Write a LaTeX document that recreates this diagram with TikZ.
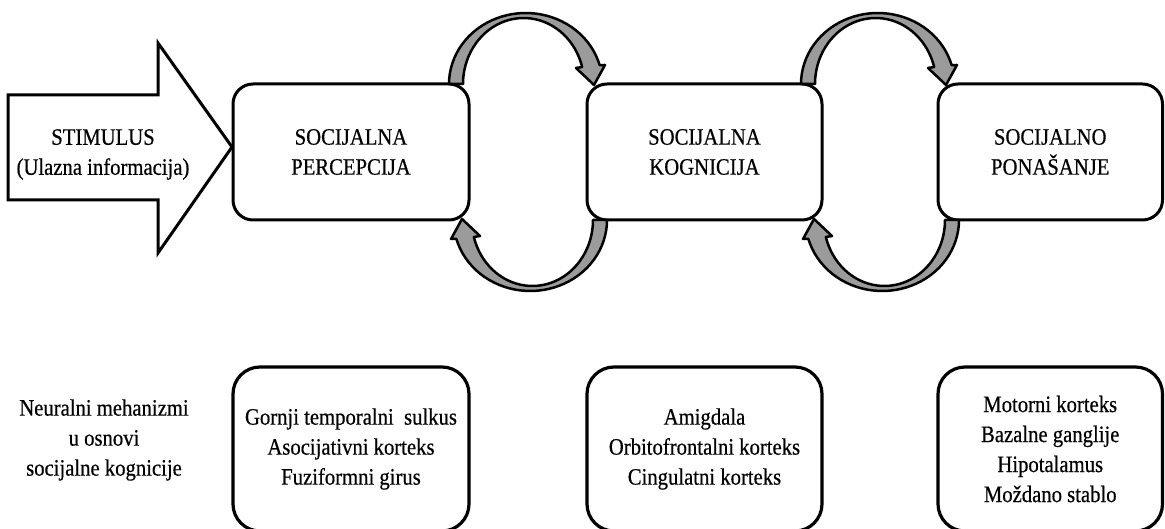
\documentclass[tikz,border=0pt]{standalone}
\usepackage{fontspec}
\setmainfont{Liberation Serif}
\newfontfamily\dfont[FakeStretch=0.88,FakeBold=0.5]{Liberation Serif}
\usetikzlibrary{calc}
\definecolor{arrowgray}{RGB}{155,155,155}
\tikzset{
  lbl/.style={font=\dfont\fontsize{23.5}{30}\selectfont, align=center, inner sep=0pt, outer sep=0pt},
  topbox/.style={lbl, draw, line width=3pt, rounded corners=20pt, minimum height=136pt},
  botbox/.style={lbl, draw, line width=3.2pt, rounded corners=27pt, minimum height=164pt},
  band/.style={draw=black, fill=arrowgray, line width=2.5pt, line join=round},
  bigarrow/.style={draw=black, line width=3pt, line join=miter, fill=white},
  loopband/.pic={
    \path[band] plot[domain=180:344.5, samples=40] ({-2.3+76.7*cos(\x)}, {71*sin(\x)})
      -- (77,-19) -- (66,1) -- (48,-16) -- (54.2,-17)
      -- plot[domain=345.07:180, samples=40] ({-4.4+60.6*cos(\x)}, {66*sin(\x)}) -- cycle;
  }
}
\begin{document}
\begin{tikzpicture}[x=1pt,y=-1pt]
\fill[white] (0,0) rectangle (1165,529);
\useasboundingbox (0,0) rectangle (1165,529);

% big input arrow
\draw[bigarrow] (8,95) -- (158,95) -- (158,43) -- (232,147) -- (158,253) -- (158,200) -- (8,200) -- cycle;
\node[lbl] (stim) at (103,154.5) {STIMULUS\\(Ulazna informacija)};

% top row
\node[topbox, minimum width=236pt] (sp) at (351,152) {SOCIJALNA\\PERCEPCIJA};
\node[topbox, minimum width=235pt] (sk) at (704.5,152) {SOCIJALNA\\KOGNICIJA};
\node[topbox, minimum width=224.5pt] (sn) at (1050.25,152) {SOCIJALNO\\PONAŠANJE};

% loop arrows
\pic at ($(sp.north east)!0.5!(sk.north west)$) {loopband};
\pic[rotate=180] at ($(sp.south east)!0.5!(sk.south west)$) {loopband};
\pic at ($(sk.north east)!0.5!(sn.north west)$) {loopband};
\pic[rotate=180] at ($(sk.south east)!0.5!(sn.south west)$) {loopband};

% bottom row
\node[lbl] (nm) at (104,440) {Neuralni mehanizmi\\u osnovi\\socijalne kognicije};
\node[botbox, minimum width=236pt] (b1) at (351,449) {Gornji temporalni\ \ sulkus\\Asocijativni korteks\\Fuziformni girus};
\node[botbox, minimum width=235pt] (b2) at (704.5,449) {Amigdala\\Orbitofrontalni korteks\\Cingulatni korteks};
\node[botbox, minimum width=224.5pt] (b3) at (1050.25,449) {Motorni korteks\\Bazalne ganglije\\Hipotalamus\\Moždano stablo};
\end{tikzpicture}
\end{document}
